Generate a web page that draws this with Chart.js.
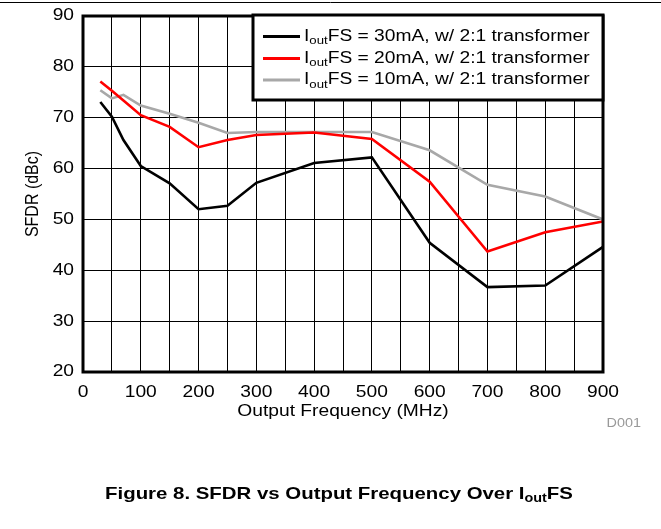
<!DOCTYPE html>
<html>
<head>
<meta charset="utf-8">
<script src="https://cdn.jsdelivr.net/npm/chart.js@4.4.1/dist/chart.umd.min.js"></script>
<style>
  html, body { margin: 0; padding: 0; background: #fff; }
</style>
</head>
<body>
<canvas id="myChart" width="661" height="529"></canvas>
<script>
// data
var freq   = [30, 50, 70, 100, 150, 200, 250, 300, 400, 500, 600, 700, 800, 900];
var sfdr30 = [73.1, 70.2, 65.6, 60.5, 57.1, 52.0, 52.7, 57.2, 61.1, 62.2, 45.4, 36.7, 37.0, 44.6];
var sfdr20 = [77.1, 75.3, 73.4, 70.5, 68.2, 64.2, 65.6, 66.6, 67.1, 65.8, 57.4, 43.7, 47.5, 49.6];
var sfdr10 = [75.4, 73.8, 74.5, 72.4, 70.8, 69.0, 67.0, 67.2, 67.2, 67.2, 63.6, 56.8, 54.5, 50.0];

var seriesCurrent = ['30mA', '20mA', '10mA'];
var seriesColors  = ['#000000', '#ff0000', '#a8a8a8'];

var xTicks = [0, 100, 200, 300, 400, 500, 600, 700, 800, 900];
var yTicks = [20, 30, 40, 50, 60, 70, 80, 90];

var FONT = '"Liberation Sans", Arial, sans-serif';
var SX = 1.2; // the figure text is stretched sideways

function points(ys) {
    return freq.map(function (f, i) { return { x: f, y: ys[i] }; });
}

// draw text pieces [{t, sub}] stretched horizontally
function drawParts(ctx, parts, x, y, size, bold, align, rot) {
    ctx.save();
    ctx.translate(x, y);
    ctx.scale(SX, 1);
    if (rot) ctx.rotate(rot);
    ctx.textBaseline = 'middle';
    ctx.textAlign = 'left';
    var w = 0;
    parts.forEach(function (p) {
        ctx.font = (bold ? 'bold ' : '') + (p.sub ? Math.round(size * 0.7) : size) + 'px ' + FONT;
        w += ctx.measureText(p.t).width;
    });
    var cx = align === 'center' ? -w / 2 : (align === 'right' ? -w : 0);
    parts.forEach(function (p) {
        ctx.font = (bold ? 'bold ' : '') + (p.sub ? Math.round(size * 0.7) : size) + 'px ' + FONT;
        ctx.fillText(p.t, cx, p.sub ? size * 0.3 : 0);
        cx += ctx.measureText(p.t).width;
    });
    ctx.restore();
}

var decor = {
    id: 'decor',
    afterDraw: function (chart) {
        var ctx = chart.ctx;
        var a = chart.chartArea;
        var xs = chart.scales.x, ys = chart.scales.y;
        ctx.save();

        // rule at the very top
        ctx.strokeStyle = '#000';
        ctx.lineWidth = 1;
        ctx.beginPath();
        ctx.moveTo(0, 2.5);
        ctx.lineTo(661, 2.5);
        ctx.stroke();

        // plot frame
        ctx.lineWidth = 3;
        ctx.strokeRect(a.left, a.top, a.right - a.left, a.bottom - a.top);

        // tick labels
        ctx.fillStyle = '#000';
        yTicks.forEach(function (v) {
            drawParts(ctx, [{ t: String(v) }], a.left - 9, ys.getPixelForValue(v), 16, false, 'right');
        });
        xTicks.forEach(function (v) {
            drawParts(ctx, [{ t: String(v) }], xs.getPixelForValue(v), 393, 16, false, 'center');
        });

        // axis titles
        drawParts(ctx, [{ t: 'Output Frequency (MHz)' }], (a.left + a.right) / 2, 412, 16, false, 'center');
        drawParts(ctx, [{ t: 'SFDR (dBc)' }], 33, (a.top + a.bottom) / 2, 16, false, 'center', -Math.PI / 2);

        // figure id
        ctx.fillStyle = '#999999';
        drawParts(ctx, [{ t: 'D001' }], 641, 424, 12, false, 'right');

        // legend box
        var lx = 253, ly = 15, lw = a.right - 253, lh = 85;
        ctx.fillStyle = '#fff';
        ctx.fillRect(lx, ly, lw, lh);
        ctx.strokeStyle = '#000';
        ctx.lineWidth = 3;
        ctx.strokeRect(lx, ly, lw, lh);
        var rows = [36.5, 58.5, 80];
        chart.data.datasets.forEach(function (ds, i) {
            ctx.strokeStyle = ds.borderColor;
            ctx.lineWidth = 3;
            ctx.beginPath();
            ctx.moveTo(263, rows[i]);
            ctx.lineTo(300, rows[i]);
            ctx.stroke();
            ctx.fillStyle = '#000';
            drawParts(ctx, [{ t: 'I' }, { t: 'out', sub: true }, { t: 'FS = ' + seriesCurrent[i] + ', w/ 2:1 transformer' }],
                304, rows[i], 16, false, 'left');
        });

        // caption
        ctx.fillStyle = '#000';
        drawParts(ctx, [{ t: 'Figure 8. SFDR vs Output Frequency Over I' }, { t: 'out', sub: true }, { t: 'FS' }],
            339, 494, 17, true, 'center');

        ctx.restore();
    }
};

var myChart = new Chart(document.getElementById('myChart').getContext('2d'), {
    type: 'line',
    data: {
        datasets: [0, 1, 2].map(function (i) {
            return {
                label: 'IoutFS = ' + seriesCurrent[i] + ', w/ 2:1 transformer',
                data: points([sfdr30, sfdr20, sfdr10][i]),
                borderColor: seriesColors[i],
                backgroundColor: seriesColors[i],
                borderWidth: 2.6,
                pointRadius: 0,
                tension: 0,
                fill: false
            };
        })
    },
    options: {
        responsive: false,
        animation: false,
        layout: { padding: { left: 83, top: 16, right: 58, bottom: 157 } },
        plugins: { legend: { display: false }, tooltip: { enabled: false } },
        scales: {
            x: {
                type: 'linear', min: 0, max: 900,
                ticks: { stepSize: 50, display: false },
                grid: { color: '#000', lineWidth: 1, drawTicks: false },
                border: { display: false },
                afterFit: function (s) { s.height = 0; }
            },
            y: {
                min: 20, max: 90,
                ticks: { stepSize: 10, display: false },
                grid: { color: '#000', lineWidth: 1, drawTicks: false },
                border: { display: false },
                afterFit: function (s) { s.width = 0; }
            }
        }
    },
    plugins: [decor]
});
</script>
</body>
</html>
